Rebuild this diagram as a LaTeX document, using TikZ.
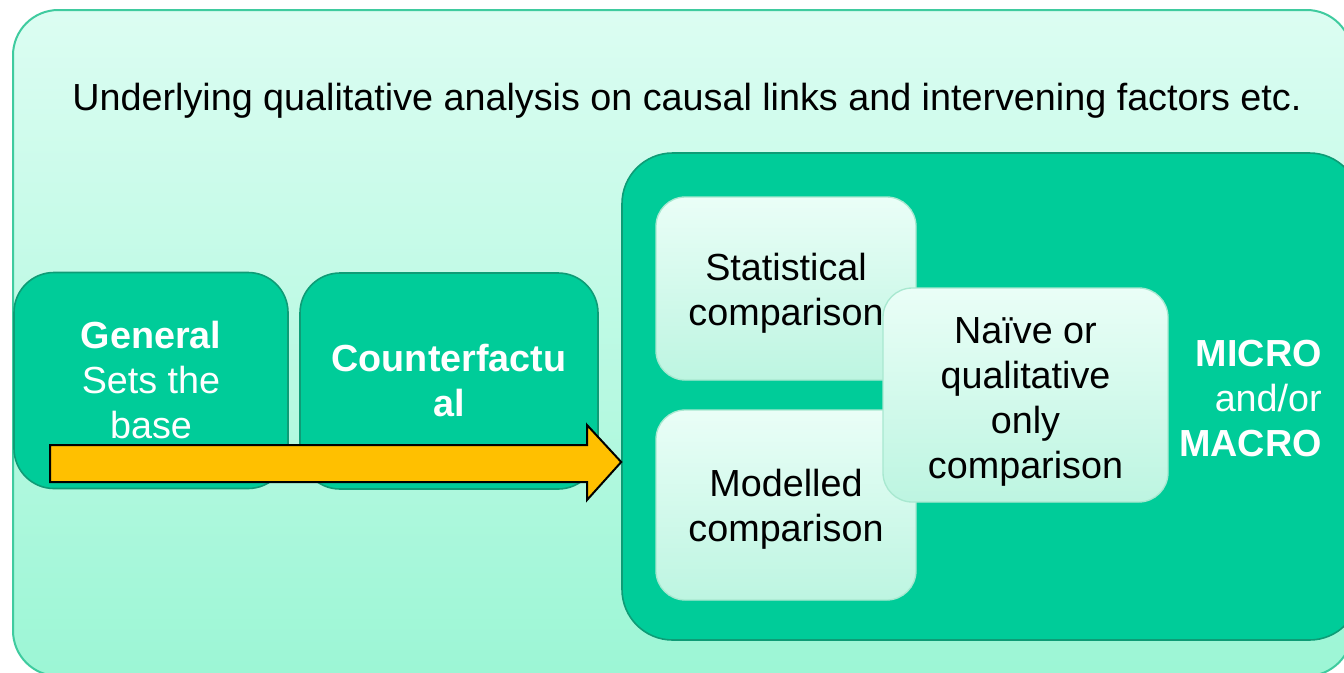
\documentclass[tikz,border=0pt]{standalone}
\usepackage{fontspec}
\setmainfont{Liberation Sans}
\definecolor{outertop}{HTML}{DCFDF2}
\definecolor{outerbot}{HTML}{9CF6D5}
\definecolor{outerline}{HTML}{3FCB9F}
\definecolor{teal}{HTML}{00CC99}
\definecolor{tealline}{HTML}{0E9C76}
\definecolor{innertop}{HTML}{EAFEF7}
\definecolor{innerbot}{HTML}{BDF5E1}
\definecolor{innerline}{HTML}{A8E8D0}
\definecolor{arrowfill}{HTML}{FFC000}
\tikzset{
  txt/.style={font=\fontsize{28.3}{33.75}\selectfont, align=center, inner sep=0pt},
  tealbox/.style={rectangle, rounded corners=30pt, fill=teal, draw=tealline, line width=1.2pt, inner sep=0pt},
  innerbox/.style={rectangle, rounded corners=22pt, top color=innertop, bottom color=innerbot, draw=innerline, line width=1pt, inner sep=0pt},
  outerbox/.style={rectangle, rounded corners=34pt, top color=outertop, bottom color=outerbot, draw=outerline, line width=1.5pt, inner sep=0pt},
  blockarrow/.style={fill=arrowfill, draw=black, line width=1.5pt, line join=miter}
}
\begin{document}
\begin{tikzpicture}[x=0.75pt, y=-0.75pt]
\useasboundingbox (0,0) rectangle (1344,672);
\clip (0,0) rectangle (1344,672);
\fill[white] (0,0) rectangle (1344,672);
% outer box
\node[outerbox, minimum width=1004.25pt, minimum height=499.5pt] (outer) at (682.5,343) {};
\node[txt] (title) at (687,101) {Underlying qualitative analysis on causal links and intervening factors etc.};
% right big box
\node[tealbox, rounded corners=38pt, minimum width=553.5pt, minimum height=365.25pt] (right) at (991,396.5) {};
% left boxes
\node[tealbox, minimum width=205.5pt, minimum height=162pt, txt, text=white] (general) at (151,380.5)
  {\textbf{General}\\Sets the\\base};
\node[tealbox, minimum width=223.5pt, minimum height=162pt, txt, text=white] (counter) at (449,381)
  {\textbf{Counterfactu}\\\textbf{al}};
% arrow
\coordinate (tip) at (right.west |- 0,462);
\draw[blockarrow] (50,445) -- (587,445) -- (587,425) -- (tip) -- (587,500) -- (587,482) -- (50,482) -- cycle;
% inner boxes
\node[innerbox, minimum width=195pt, minimum height=137.25pt] (stat) at (786,288.5) {};
\node[txt] (stattxt) at (786,293.5) {Statistical\\comparison};
\node[innerbox, minimum width=195pt, minimum height=142.5pt] (model) at (786,505) {};
\node[txt] (modeltxt) at (786,509) {Modelled\\comparison};
\node[innerbox, minimum width=213.75pt, minimum height=160.5pt] (naive) at (1025.5,395) {};
\node[txt] (naivetxt) at (1025.5,402) {Naïve or\\qualitative\\only\\comparison};
% micro / macro
\node[txt, align=right, anchor=east, text=white] (micro) at (1322,398) {\textbf{MICRO}\\and/or\\\textbf{MACRO}};
\end{tikzpicture}
\end{document}
